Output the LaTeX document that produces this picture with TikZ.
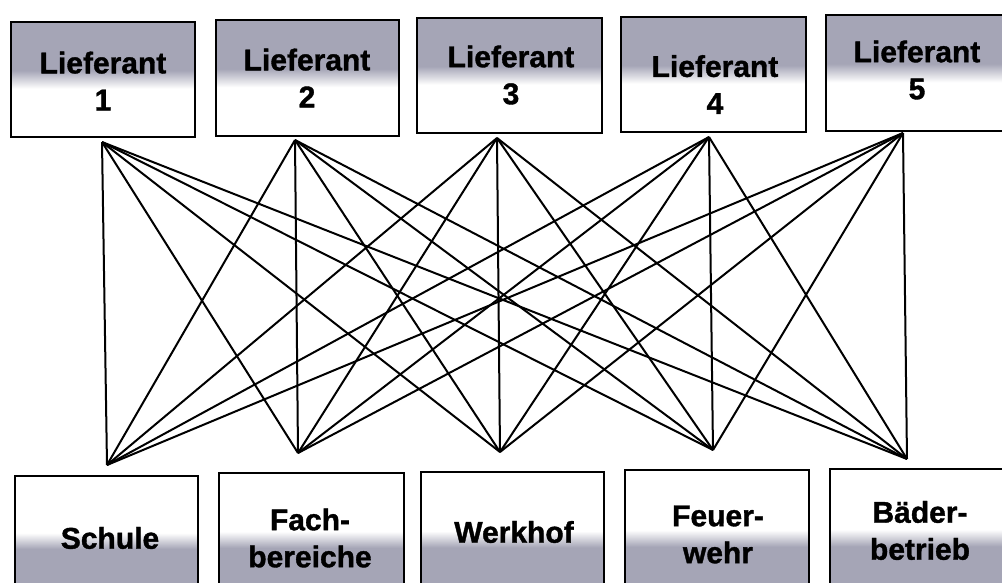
\documentclass[tikz,border=0pt]{standalone}
\usepackage{fontspec}
\setmainfont{Liberation Sans}
\newfontfamily\heavysans[FakeBold=1.2]{Liberation Sans Bold}
\definecolor{boxgray}{RGB}{165,165,182}
\pgfdeclareverticalshading{topshade}{100bp}{color(0bp)=(white); color(46bp)=(white); color(54bp)=(boxgray); color(100bp)=(boxgray)}
\pgfdeclareverticalshading{botshade}{100bp}{color(0bp)=(boxgray); color(43bp)=(boxgray); color(50bp)=(white); color(100bp)=(white)}
\tikzset{
  topbox/.style={draw=black, line width=2pt, shading=topshade, rectangle, inner sep=0pt},
  botbox/.style={draw=black, line width=2pt, shading=botshade, rectangle, inner sep=0pt},
  lbl/.style={font=\fontsize{30}{37}\heavysans, align=center, inner sep=0pt, text=black},
  link/.style={draw=black, line width=2pt}
}
\begin{document}
\begin{tikzpicture}[x=1pt,y=-1pt]
\useasboundingbox (0,0) rectangle (1002,582);
\clip (0,0) rectangle (1002,582);
\fill[white] (0,0) rectangle (1002,582);
% top boxes
\node[topbox, minimum width=184pt, minimum height=115pt] (T1) at (103,79.5) {};
\node[topbox, minimum width=183pt, minimum height=116pt] (T2) at (307.5,78) {};
\node[topbox, minimum width=185pt, minimum height=115pt] (T3) at (509.5,75.5) {};
\node[topbox, minimum width=185pt, minimum height=115pt] (T4) at (713.5,74.5) {};
\node[topbox, minimum width=184pt, minimum height=116pt] (T5) at (918,73) {};
% bottom boxes
\node[botbox, minimum width=183pt, minimum height=114pt] (B1) at (106.5,533) {};
\node[botbox, minimum width=185pt, minimum height=117pt] (B2) at (311.5,531.5) {};
\node[botbox, minimum width=183pt, minimum height=118pt] (B3) at (512.5,531) {};
\node[botbox, minimum width=184pt, minimum height=120pt] (B4) at (717,530) {};
\node[botbox, minimum width=180pt, minimum height=121pt] (B5) at (920,529.5) {};
% labels
\node[lbl] (L1) at (103,81) {Lieferant\\1};
\node[lbl] (L2) at (307,78) {Lieferant\\2};
\node[lbl] (L3) at (511,75) {Lieferant\\3};
\node[lbl] (L4) at (715,84.5) {Lieferant\\4};
\node[lbl] (L5) at (917,70) {Lieferant\\5};
\node[lbl] (M1) at (110,538) {Schule};
\node[lbl] (M2) at (310,538) {Fach-\\bereiche};
\node[lbl] (M3) at (514,532) {Werkhof};
\node[lbl] (M4) at (718,534.5) {Feuer-\\wehr};
\node[lbl] (M5) at (920,530.5) {Bäder-\\betrieb};
% connection points
\coordinate (t1) at (102,142);
\coordinate (t2) at (295,140);
\coordinate (t3) at (497,138);
\coordinate (t4) at (709,137);
\coordinate (t5) at (903,133);
\coordinate (b1) at (107,465);
\coordinate (b2) at (298,453);
\coordinate (b3) at (500,452);
\coordinate (b4) at (713,450);
\coordinate (b5) at (907,459);
\foreach \i in {1,...,5}{
  \foreach \j in {1,...,5}{
    \draw[link] (t\i) -- (b\j);
  }
}
\end{tikzpicture}
\end{document}
